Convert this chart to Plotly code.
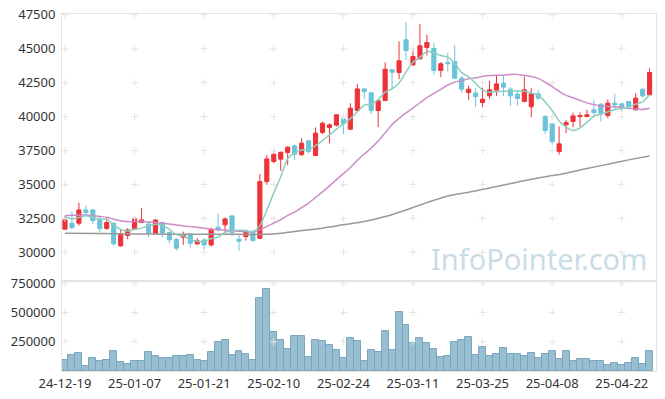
import plotly.graph_objects as go

dates = ["24-12-19","24-12-20","24-12-23","24-12-24","24-12-26","24-12-27","24-12-30","25-01-02","25-01-03","25-01-06",
         "25-01-07","25-01-08","25-01-09","25-01-10","25-01-13","25-01-14","25-01-15","25-01-16","25-01-17","25-01-20",
         "25-01-21","25-01-22","25-01-23","25-01-24","25-01-31","25-02-03","25-02-04","25-02-05","25-02-06","25-02-07",
         "25-02-10","25-02-11","25-02-12","25-02-13","25-02-14","25-02-17","25-02-18","25-02-19","25-02-20","25-02-21",
         "25-02-24","25-02-25","25-02-26","25-02-27","25-02-28","25-03-04","25-03-05","25-03-06","25-03-07","25-03-10",
         "25-03-11","25-03-12","25-03-13","25-03-14","25-03-17","25-03-18","25-03-19","25-03-20","25-03-21","25-03-24",
         "25-03-25","25-03-26","25-03-27","25-03-28","25-03-31","25-04-01","25-04-02","25-04-03","25-04-04","25-04-07",
         "25-04-08","25-04-09","25-04-10","25-04-11","25-04-14","25-04-15","25-04-16","25-04-17","25-04-18","25-04-21",
         "25-04-22","25-04-23","25-04-24","25-04-25","25-04-28"]

open_ = [31700,32140,32140,33120,33120,32430,31750,32140,30470,31230,
         31700,32190,32090,31400,32190,31450,30960,31110,31350,30620,
         30910,30540,31840,32020,32680,30960,31160,31480,31030,35210,
         36690,36860,37350,37840,37180,38210,37130,38820,39190,39370,
         39830,39070,40450,42040,41750,40450,41180,43450,43250,45660,
         43810,44260,45090,45020,43400,43990,44060,42830,41770,41730,
         41040,41530,41950,42460,42020,41650,41110,40720,41680,40000,
         39460,37420,39390,39640,40000,40000,40500,40910,40080,40990,
         40940,41110,40500,42020,41600]
high = [32700,33000,33660,33420,33170,32630,32510,32190,31700,31770,
        32630,33250,32260,32430,32260,31520,31030,31520,31400,31030,
        31030,31820,32830,32560,32750,31300,31650,31650,35780,37150,
        37500,37420,37840,37960,38410,38280,39190,39640,39510,40180,
        39880,40990,42410,42090,41770,41230,43990,43490,45540,46960,
        44920,46840,46030,45410,44010,44680,45290,43000,42270,42090,
        42140,42630,43080,43000,42170,41850,42950,42090,41970,40130,
        39510,39270,39760,40300,40300,40500,41230,40990,41260,41680,
        40990,41160,41730,42020,43570]
low = [31650,31700,31970,32750,32090,31480,31650,30470,30420,30960,
       31650,32190,31110,31350,31110,30660,30120,30540,30340,30540,
       30170,30420,31520,31480,31200,30100,30860,30790,30960,34970,
       36560,36000,36420,36810,37130,37280,37080,38730,38040,39270,
       38700,39020,40370,41280,40200,39220,41160,42020,42760,44180,
       43770,44180,44500,43080,42910,43320,42780,41770,41230,40690,
       40690,41280,41530,41500,40790,40790,41110,39960,41230,38730,
       37920,37200,38780,39220,39270,39960,39960,39640,39880,40500,
       40370,40550,40450,41380,41600]
close = [32380,31820,33120,32930,32340,31750,32190,30620,31330,31650,
         32510,32380,31400,32380,31400,30910,30300,31280,30660,30840,
         30540,31700,31650,32460,31450,30810,31570,30860,35210,36880,
         37230,37370,37740,37230,38040,37420,38780,39510,39390,40130,
         39460,40620,42040,41850,40450,41160,43490,43270,44110,44870,
         44430,45220,45460,43400,43890,43890,42830,42020,42020,41480,
         41280,41970,42410,42170,41530,41330,41970,41680,41360,38970,
         38160,37990,39560,40050,40080,40130,40300,40250,40990,40860,
         40620,40740,41360,41530,43250]
volume = [90000,138000,155000,45000,113000,88000,96000,172000,79000,62000,
          88000,88000,164000,130000,113000,113000,130000,130000,138000,96000,
          88000,164000,249000,266000,138000,172000,147000,96000,621000,698000,
          333000,266000,189000,299000,299000,121000,266000,257000,223000,181000,
          113000,283000,257000,88000,181000,164000,342000,181000,503000,393000,
          240000,283000,240000,189000,121000,130000,249000,266000,291000,138000,
          206000,130000,147000,198000,147000,147000,130000,155000,113000,147000,
          172000,105000,172000,88000,105000,105000,88000,88000,54000,71000,
          54000,71000,113000,62000,172000]
ma5 = [32630,32460,32560,32700,32560,32430,32460,32000,31680,31560,
       31700,31780,31950,32060,32000,31690,31300,31200,30930,30820,
       30780,31010,31120,31470,31580,31620,31600,31480,31960,33100,
       34380,35560,36900,37320,37540,37580,37860,38230,38650,39070,
       39480,39850,40350,40840,40920,41250,41800,42050,42480,43300,
       44000,44360,44820,44690,44500,44380,43920,43240,42930,42460,
       41960,41790,41850,41870,41880,41880,41860,41740,41580,41080,
       40450,39680,39230,38980,39170,39580,40030,40170,40350,40500,
       40600,40690,40920,41080,41600]
ma20 = [32700,32720,32740,32750,32700,32640,32580,32430,32330,32260,
        32260,32260,32230,32190,32140,32090,32010,31940,31890,31840,
        31770,31700,31670,31650,31600,31550,31510,31480,31650,31910,
        32150,32400,32720,32960,33290,33620,34040,34450,34890,35350,
        35800,36250,36770,37240,37690,38200,38800,39420,39870,40270,
        40630,41020,41400,41710,42010,42330,42530,42660,42790,42860,
        42950,43020,43040,43050,43100,43110,43040,42960,42820,42530,
        42210,41850,41560,41390,41200,41010,40880,40790,40740,40710,
        40680,40620,40560,40530,40620]
ma120_idx = [0,5,10,15,20,25,29,31,34,37,40,43,46,49,52,55,58,61,64,67,70,72,75,78,81,84]
ma120 = [31400,31380,31350,31330,31330,31320,31320,31400,31600,31770,32020,32260,32630,33120,33660,
         34150,34420,34740,35060,35380,35650,35830,36170,36490,36810,37100]

price_ticks = [30000,32500,35000,37500,40000,42500,45000,47500]
volume_ticks = [250000,500000,750000]
x_ticks = dates[::10]

UP = "#ee3238"
DOWN = "#6cc3d8"
GRID = "#e3e3e3"
CROSS = "#e4e4e4"

fig = go.Figure()

fig.add_trace(go.Candlestick(
    x=dates, open=open_, high=high, low=low, close=close,
    xaxis="x", yaxis="y",
    increasing=dict(line=dict(color=UP, width=1), fillcolor=UP),
    decreasing=dict(line=dict(color=DOWN, width=1), fillcolor=DOWN),
    whiskerwidth=0, showlegend=False))

fig.add_trace(go.Bar(x=dates, y=volume, xaxis="x2", yaxis="y2",
                     marker=dict(color="#98bfd1", line=dict(color="#7aa6bd", width=1)),
                     showlegend=False))

# grid crosses
gx, gy = [], []
for d in x_ticks:
    for p in price_ticks:
        gx.append(d); gy.append(p)
fig.add_trace(go.Scatter(x=gx, y=gy, mode="markers", xaxis="x", yaxis="y",
                         marker=dict(symbol="cross-thin", size=5, line=dict(width=1, color=CROSS)),
                         hoverinfo="skip", showlegend=False))
vx, vy = [], []
for d in x_ticks:
    for v in volume_ticks:
        vx.append(d); vy.append(v)
fig.add_trace(go.Scatter(x=vx, y=vy, mode="markers", xaxis="x2", yaxis="y2",
                         marker=dict(symbol="cross-thin", size=5, line=dict(width=1, color=CROSS)),
                         hoverinfo="skip", showlegend=False))

fig.add_trace(go.Scatter(x=[dates[i] for i in ma120_idx], y=ma120, mode="lines",
                         line=dict(color="#999999", width=1.5, shape="spline", smoothing=0.6),
                         xaxis="x", yaxis="y", showlegend=False, hoverinfo="skip"))
fig.add_trace(go.Scatter(x=dates, y=ma20, mode="lines",
                         line=dict(color="#cc8dc8", width=1.5, shape="spline", smoothing=0.6),
                         xaxis="x", yaxis="y", showlegend=False, hoverinfo="skip"))
fig.add_trace(go.Scatter(x=dates, y=ma5, mode="lines",
                         line=dict(color="#8ccdc0", width=1.5, shape="spline", smoothing=0.6),
                         xaxis="x", yaxis="y", showlegend=False, hoverinfo="skip"))

font = dict(family="Noto Sans, Liberation Sans, sans-serif", size=13, color="#333333")
xr = [-0.43, 84.92]
# the page body adds an 8px offset, so the figure is 8px smaller and margins compensate
fig.update_layout(
    width=657, height=391,
    margin=dict(l=54, r=9, t=6, b=28),
    paper_bgcolor="white", plot_bgcolor="white",
    font=font,
    boxgap=0.15, bargap=0,
    xaxis=dict(domain=[0, 1], anchor="y", type="category", categoryorder="array", categoryarray=dates,
               range=xr, showgrid=False, automargin=False,
               showticklabels=False, ticks="", showline=True, linecolor=GRID, mirror=True,
               rangeslider=dict(visible=False), matches="x2"),
    yaxis=dict(domain=[0.252, 1], range=[27880, 47560], tickvals=price_ticks, tickformat="d",
               showgrid=False, zeroline=False, showline=True, linecolor=GRID, mirror=True,
               ticks="", tickfont=font, automargin=False, ticklabelstandoff=3,
               ticklabeloverflow="allow"),
    xaxis2=dict(domain=[0, 1], anchor="y2", type="category", categoryorder="array", categoryarray=dates,
                range=xr, showgrid=False, automargin=False,
                tickvals=x_ticks, ticktext=x_ticks, ticks="", showline=True, linecolor=GRID,
                mirror=True, tickfont=font, tickangle=0, ticklabeloverflow="allow"),
    yaxis2=dict(domain=[0, 0.252], range=[0, 769000], tickvals=volume_ticks, tickformat="d",
                showgrid=False, zeroline=False, showline=True, linecolor=GRID, mirror=True,
                ticks="", tickfont=font, automargin=False, ticklabelstandoff=3,
                ticklabeloverflow="allow"),
    annotations=[dict(text="InfoPointer.com", xref="paper", yref="paper", x=0.803, y=0.3165,
                      xanchor="center", yanchor="middle", showarrow=False,
                      font=dict(family="Noto Sans, sans-serif", size=29, color="#c9dce7"))],
)

fig.write_html("out.html")
